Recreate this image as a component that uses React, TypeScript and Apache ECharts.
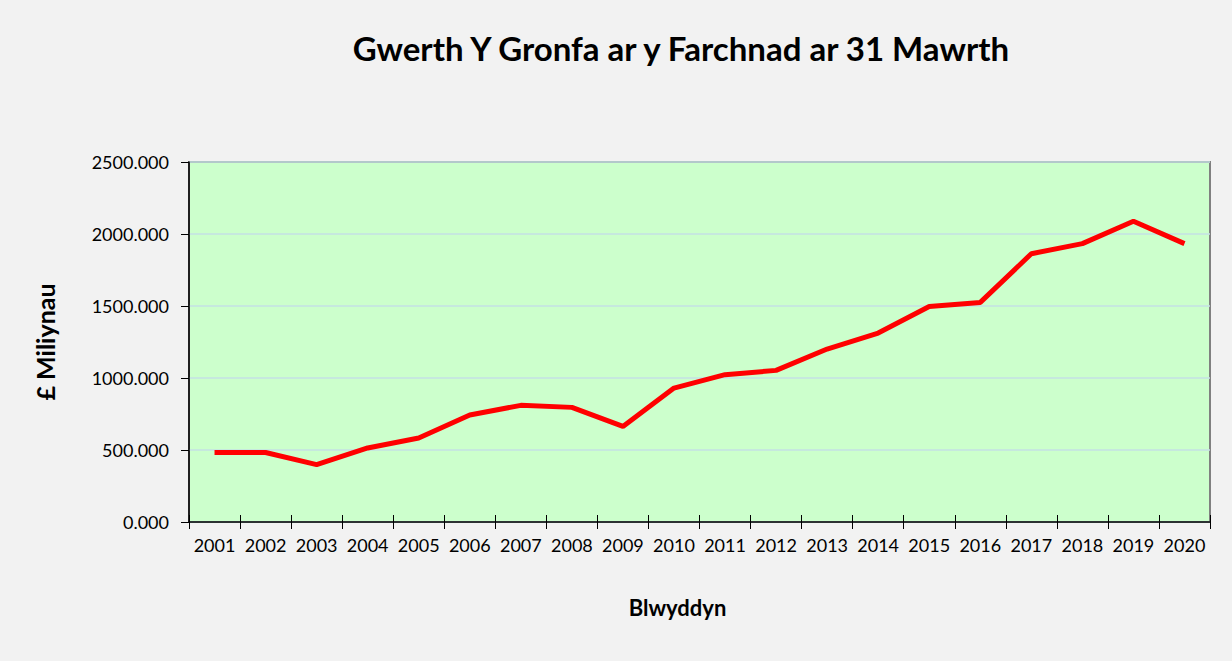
import React, { useEffect, useRef } from "react";
import * as echarts from "echarts";

const years = ["2001","2002","2003","2004","2005","2006","2007","2008","2009","2010","2011","2012","2013","2014","2015","2016","2017","2018","2019","2020"];
const fundValues = [483, 483, 398, 514, 583, 743, 810, 796, 664, 930, 1023, 1053, 1201, 1312, 1497, 1525, 1863, 1933, 2088, 1933];
const yTicks = { min: 0, max: 2500, interval: 500 };
const titleText = "Gwerth Y Gronfa ar y Farchnad ar 31 Mawrth";
const xName = "Blwyddyn";
const yName = "£ Miliynau";

const FONT = "Lato, 'Open Sans', sans-serif";

export default function App() {
  const ref = useRef<HTMLDivElement>(null);
  useEffect(() => {
    if (!ref.current) return;
    const chart = echarts.init(ref.current, undefined, { renderer: "svg" });
    chart.setOption({
      animation: false,
      backgroundColor: "#f2f2f2",
      title: {
        text: titleText,
        left: 676,
        top: 26,
        textAlign: "center",
        textStyle: { fontFamily: FONT, fontWeight: "bold", fontSize: 33, color: "#000" },
      },
      grid: {
        left: 189, right: 22, top: 162, bottom: 139,
        show: true, backgroundColor: "#ccffcc", borderColor: "#808080", borderWidth: 2,
      },
      xAxis: [
        {
          type: "category",
          data: years,
          boundaryGap: true,
          name: xName,
          nameLocation: "middle",
          nameGap: 74,
          nameTextStyle: { fontFamily: FONT, fontWeight: "bold", fontSize: 22, color: "#000", padding: [0, 44, 0, 0] },
          axisLine: { show: true, lineStyle: { color: "#000", width: 1.5 } },
          axisTick: { show: true, length: 7, lineStyle: { color: "#000" } },
          axisLabel: { fontFamily: FONT, fontSize: 18, color: "#000", margin: 14, interval: 0 },
          splitLine: { show: false },
        },
        {
          type: "category",
          data: years,
          boundaryGap: true,
          position: "bottom",
          axisLine: { show: false },
          axisTick: { show: true, inside: true, length: 7, lineStyle: { color: "#000" } },
          axisLabel: { show: false },
          splitLine: { show: false },
        },
      ],
      yAxis: {
        type: "value",
        min: yTicks.min,
        max: yTicks.max,
        interval: yTicks.interval,
        name: yName,
        nameLocation: "middle",
        nameGap: 132,
        nameRotate: 90,
        nameTextStyle: { fontFamily: FONT, fontWeight: "bold", fontSize: 25, color: "#000" },
        axisLine: { show: true, lineStyle: { color: "#000", width: 1.5 } },
        axisTick: { show: true, length: 8, lineStyle: { color: "#000" } },
        axisLabel: {
          fontFamily: FONT, fontSize: 18, color: "#000", margin: 20,
          formatter: (v: number) => v.toFixed(3),
        },
        splitLine: { show: true, lineStyle: { color: "#c4e0e4", width: 1.5 } },
      },
      series: [
        {
          type: "line",
          data: fundValues,
          xAxisIndex: 0,
          showSymbol: false,
          symbol: "none",
          lineStyle: { color: "#ff0000", width: 5 },
          itemStyle: { color: "#ff0000" },
        },
      ],
    });
    return () => chart.dispose();
  }, []);
  return <div ref={ref} style={{ position: "absolute", left: 0, top: 0, width: 1232, height: 661 }} />;
}
